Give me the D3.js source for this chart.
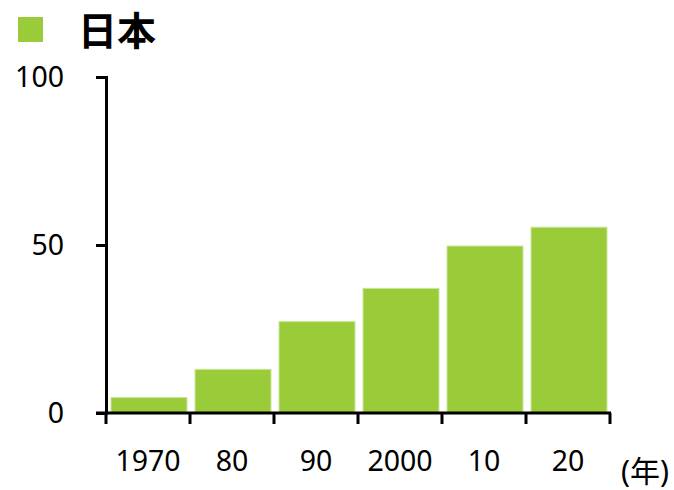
<!DOCTYPE html>
<html>
<head>
<meta charset="utf-8">
<script src="https://cdn.jsdelivr.net/npm/d3@7"></script>
<style>
  html, body { margin: 0; padding: 0; background: #fff; }
  svg { display: block; }
  text { font-family: "Noto Sans", "Noto Sans CJK JP", sans-serif; fill: #000; }
</style>
</head>
<body>
<svg id="chart" width="674" height="490"></svg>
<script>
// Share values (%) per decade
const years = ["1970", "80", "90", "2000", "10", "20"];
const values = [4.6, 13.0, 27.2, 37.1, 49.7, 55.3];
const yTicks = [0, 50, 100];
const seriesName = "日本";
const unitLabel = "(年)";

const green = "#9acc3a";
const svg = d3.select("#chart");

const x = d3.scaleBand().domain(years).range([106, 610]).paddingInner(0).paddingOuter(0);
const y = d3.scaleLinear().domain([0, 100]).range([413, 77]);

// Legend
svg.append("rect").attr("x", 18).attr("y", 17).attr("width", 25).attr("height", 25).attr("fill", green);
svg.append("text")
  .attr("x", 78).attr("y", 45)
  .attr("font-family", "'Noto Sans CJK JP', sans-serif")
  .attr("font-weight", 700).attr("font-size", 39)
  .text(seriesName);

// Bars
svg.append("g").selectAll("rect").data(values).join("rect")
  .attr("x", (d, i) => x(years[i]) + 5)
  .attr("width", x.bandwidth() - 8)
  .attr("y", d => y(d))
  .attr("height", d => y(0) - y(d))
  .attr("fill", green)
  .attr("stroke", "#c9e79a")
  .attr("stroke-width", 1);

// Y axis
const yAxis = svg.append("g").attr("transform", "translate(106,0)")
  .call(d3.axisLeft(y).tickValues(yTicks).tickSize(10).tickPadding(32));
yAxis.select(".domain").attr("stroke", "#000").attr("stroke-width", 3);
yAxis.selectAll(".tick line").attr("stroke", "#000").attr("stroke-width", 3);
yAxis.selectAll(".tick text")
  .attr("font-family", "'Noto Sans', sans-serif")
  .attr("font-size", 28.5).attr("fill", "#000");

// X axis with ticks on band boundaries
const boundaries = years.map(d => x(d)).concat([x.range()[1]]);
const xg = svg.append("g").attr("transform", `translate(0,${y(0)})`);
xg.append("line").attr("x1", 96).attr("x2", 611).attr("y1", 0).attr("y2", 0)
  .attr("stroke", "#000").attr("stroke-width", 3);
xg.selectAll("line.tk").data(boundaries).join("line").attr("class", "tk")
  .attr("x1", d => d).attr("x2", d => d).attr("y1", 0).attr("y2", 11)
  .attr("stroke", "#000").attr("stroke-width", 3);
xg.selectAll("text").data(years).join("text")
  .attr("x", d => x(d) + x.bandwidth() / 2)
  .attr("y", 58)
  .attr("text-anchor", "middle")
  .attr("font-size", 28.5)
  .text(d => d);

svg.append("text")
  .attr("x", 645).attr("y", 482)
  .attr("text-anchor", "middle")
  .attr("font-family", "'Noto Sans CJK JP', sans-serif")
  .attr("font-size", 30)
  .text(unitLabel);
</script>
</body>
</html>
